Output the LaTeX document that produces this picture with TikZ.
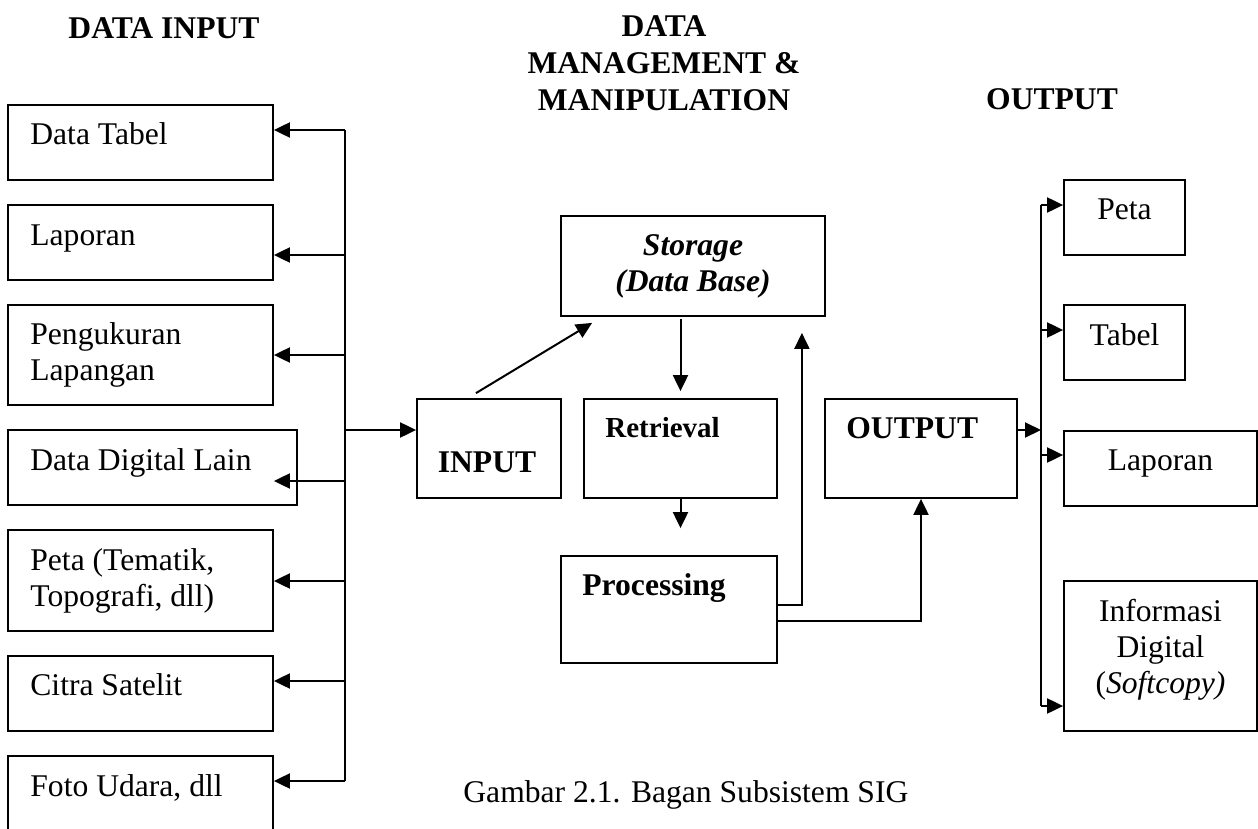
\documentclass[tikz,border=0pt]{standalone}
\usepackage{fontspec}
\setmainfont{Liberation Serif}
\usetikzlibrary{arrows.meta, fit}
\newcommand{\sigfont}{\fontsize{15.8}{18}\selectfont}

\begin{document}
\begin{tikzpicture}[x=0.5pt, y=-0.5pt,
    box/.style={draw, line width=0.9pt, inner sep=0pt},
    arr/.style={line width=1pt, -{Triangle[length=8pt, width=7.5pt]}},
    hd/.style={font=\fontsize{15.8}{18.5}\selectfont\bfseries, align=center, anchor=base, inner sep=0pt},
    lbl/.style={font=\sigfont, align=left, anchor=base west, inner sep=0pt},
    clbl/.style={font=\sigfont, align=center, anchor=base, inner sep=0pt},
    blbl/.style={font=\sigfont\bfseries, anchor=base west, inner sep=0pt}]
    \useasboundingbox (0, 0) rectangle (1258, 829);

    \node[hd] (h-input) at (164, 39) {DATA INPUT};
    \node[hd] (h-manage) at (664, 111) {DATA\\MANAGEMENT \&\\MANIPULATION};
    \node[hd] (h-output) at (1052, 110) {OUTPUT};

    \node[box, fit={(8, 105) (273, 180)}] (tabel) {};
    \node[box, fit={(8, 205) (273, 280)}] (laporan) {};
    \node[box, fit={(8, 305) (273, 405)}] (ukur) {};
    \node[box, fit={(8, 430) (297, 505)}] (digital) {};
    \node[box, fit={(8, 530) (273, 631)}] (peta) {};
    \node[box, fit={(8, 656) (273, 731)}] (citra) {};
    \node[box, fit={(8, 756) (273, 833)}] (foto) {};
    \node[lbl] (tabel-t) at (30, 145) {Data Tabel};
    \node[lbl] (laporan-t) at (30, 245) {Laporan};
    \node[lbl] (ukur-t) at (30, 380) {Pengukuran\\Lapangan};
    \node[lbl] (digital-t) at (30, 470) {Data Digital Lain};
    \node[lbl] (peta-t) at (30, 606) {Peta (Tematik,\\Topografi, dll)};
    \node[lbl] (citra-t) at (30, 695) {Citra Satelit};
    \node[lbl] (foto-t) at (30, 796) {Foto Udara, dll};

    \node[box, fit={(417, 399) (561, 498)}] (input) {};
    \node[box, fit={(561, 216) (825, 316)}] (storage) {};
    \node[box, fit={(584, 399) (777, 498)}] (retrieval) {};
    \node[box, fit={(561, 556) (777, 663)}] (processing) {};
    \node[box, fit={(825, 399) (1017, 498)}] (output) {};
    \node[hd, anchor=base] (input-t) at (487, 472) {INPUT};
    \node[clbl, font=\sigfont\bfseries\itshape] (storage-t) at (693, 291) {Storage\\(Data Base)};
    \node[blbl, font=\fontsize{14.5}{17}\selectfont\bfseries] (retrieval-t) at (605, 437) {Retrieval};
    \node[blbl] (processing-t) at (582, 595) {Processing};
    \node[blbl] (output-t) at (846, 438) {OUTPUT};

    \node[box, fit={(1064, 180) (1185, 255)}] (o-peta) {};
    \node[box, fit={(1064, 305) (1185, 380)}] (o-tabel) {};
    \node[box, fit={(1064, 431) (1257, 506)}] (o-laporan) {};
    \node[box, fit={(1064, 581) (1257, 731)}] (o-info) {};
    \node[clbl] (o-peta-t) at (1124.5, 220) {Peta};
    \node[clbl] (o-tabel-t) at (1124.5, 345) {Tabel};
    \node[clbl] (o-laporan-t) at (1160.5, 470) {Laporan};
    \node[clbl] (o-info-t) at (1160.5, 693) {Informasi\\Digital\\(\textit{Softcopy)}};

    \node[lbl] (caption) at (463, 802) {Gambar 2.1. Bagan Subsistem SIG};

    \coordinate (lb1) at (345, 130);
    \coordinate (lb2) at (345, 255);
    \coordinate (lb3) at (345, 355);
    \coordinate (lin) at (345, 430);
    \coordinate (lb4) at (345, 481);
    \coordinate (lb5) at (345, 581);
    \coordinate (lb6) at (345, 681);
    \coordinate (lb7) at (345, 781);
    \draw[line width=1pt] (lb1) to (lb7);
    \draw[arr] (lb1) to (lb1 -| tabel.east);
    \draw[arr] (lb2) to (lb2 -| laporan.east);
    \draw[arr] (lb3) to (lb3 -| ukur.east);
    \draw[arr] (lb4) to (lb4 -| tabel.east);
    \draw[arr] (lb5) to (lb5 -| peta.east);
    \draw[arr] (lb6) to (lb6 -| citra.east);
    \draw[arr] (lb7) to (lb7 -| foto.east);
    \draw[arr] (lin) to (lin -| input.west);

    \draw[arr] ([xshift=-6.5pt, yshift=2.5pt]input.north) to ([xshift=16pt, yshift=-3pt]storage.south west);
    \draw[arr, shorten <=1pt, shorten >=3.5pt] (storage.south -| retrieval.north) to (retrieval.north);
    \draw[arr, shorten >=13.5pt] (retrieval.south) to (retrieval.south |- processing.north);
    \draw[arr, shorten >=8pt] ([yshift=2.25pt]processing.east) -| ([xshift=-12pt]storage.south east);
    \draw[arr] ([yshift=-5.75pt]processing.east) -| (output.south);

    \coordinate (rb1) at (1041, 205);
    \coordinate (rb2) at (1041, 330);
    \coordinate (rin) at (1041, 430);
    \coordinate (rb3) at (1041, 455);
    \coordinate (rb4) at (1041, 706);
    \draw[line width=1pt] (rb1) to (rb4);
    \draw[arr] (rin -| output.east) to (rin);
    \draw[arr] (rb1) to (rb1 -| o-peta.west);
    \draw[arr] (rb2) to (rb2 -| o-tabel.west);
    \draw[arr] (rb3) to (rb3 -| o-laporan.west);
    \draw[arr] (rb4) to (rb4 -| o-info.west);
\end{tikzpicture}
\end{document}
